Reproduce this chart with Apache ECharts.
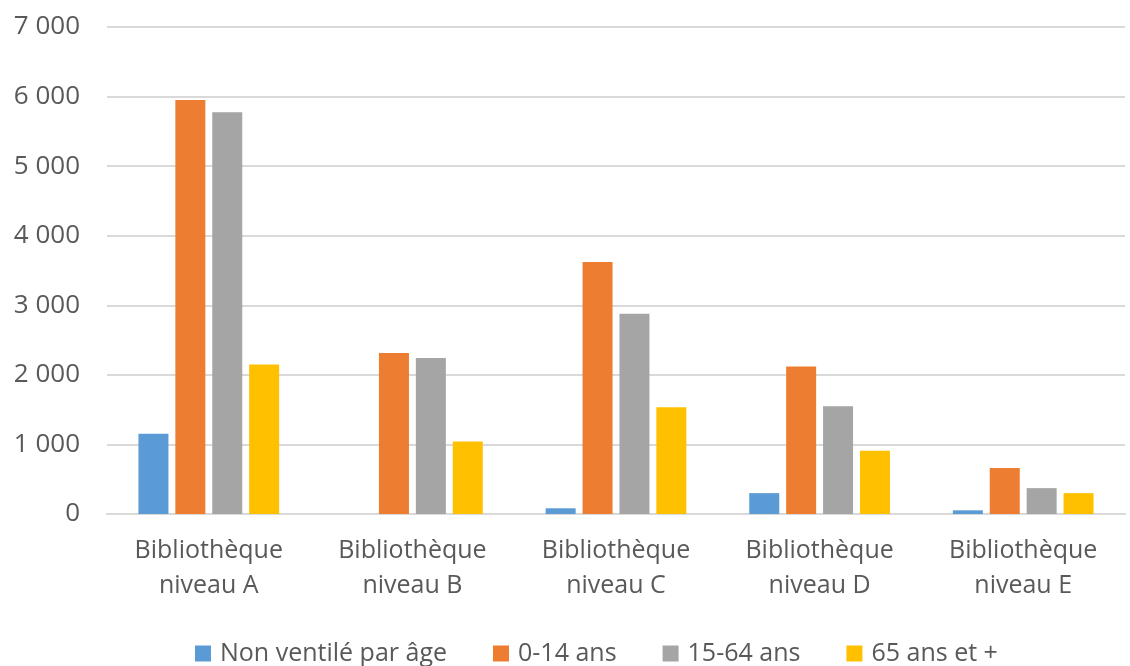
<!DOCTYPE html>
<html>
<head>
<meta charset="utf-8">
<script src="https://cdn.jsdelivr.net/npm/echarts@6/dist/echarts.min.js"></script>
<style>
  html, body { margin: 0; padding: 0; background: #fff; }
  #chart { width: 1130px; height: 666px; }
</style>
</head>
<body>
<div id="chart"></div>
<script>
  const categories = [
    'Bibliothèque\nniveau A',
    'Bibliothèque\nniveau B',
    'Bibliothèque\nniveau C',
    'Bibliothèque\nniveau D',
    'Bibliothèque\nniveau E'
  ];
  const seriesNames = ['Non ventilé par âge', '0-14 ans', '15-64 ans', '65 ans et +'];
  const nonVentile = [1155, 0, 82, 300, 53];
  const age0to14 = [5950, 2315, 3622, 2120, 662];
  const age15to64 = [5775, 2243, 2880, 1550, 372];
  const age65plus = [2148, 1042, 1533, 908, 300];
  const colors = ['#5b9bd5', '#ed7d31', '#a5a5a5', '#ffc000'];

  const fontFamily = '"Open Sans", "Noto Sans", sans-serif';
  const textColor = '#595959';

  const chart = echarts.init(document.getElementById('chart'));

  const mkSeries = (name, data, i) => ({
    name,
    type: 'bar',
    data,
    barWidth: 30,
    barGap: '23%',
    itemStyle: { color: colors[i] },
    emphasis: { disabled: true }
  });

  chart.setOption({
    animation: false,
    color: colors,
    textStyle: { fontFamily },
    grid: { left: 107, right: 5, top: 27, bottom: 152 },
    legend: {
      top: 636,
      left: 190,
      itemWidth: 16,
      itemHeight: 16,
      itemGap: 46,
      icon: 'rect',
      textStyle: { fontSize: 25, color: textColor, fontFamily, padding: [0, 0, 0, 4] },
      data: seriesNames
    },
    xAxis: {
      type: 'category',
      data: categories,
      axisLine: { show: true, lineStyle: { color: '#d9d9d9', width: 2 } },
      axisTick: { show: false },
      axisLabel: {
        color: textColor,
        fontSize: 25,
        lineHeight: 35,
        margin: 19,
        fontFamily
      }
    },
    yAxis: {
      type: 'value',
      min: 0,
      max: 7000,
      interval: 1000,
      axisLine: { show: false },
      axisTick: { show: false },
      splitLine: { lineStyle: { color: '#d9d9d9', width: 2 } },
      axisLabel: {
        color: textColor,
        fontSize: 26,
        margin: 27,
        fontFamily,
        formatter: v => String(v).replace(/\B(?=(\d{3})+(?!\d))/g, ' ')
      }
    },
    series: [
      mkSeries(seriesNames[0], nonVentile, 0),
      mkSeries(seriesNames[1], age0to14, 1),
      mkSeries(seriesNames[2], age15to64, 2),
      mkSeries(seriesNames[3], age65plus, 3)
    ]
  });
</script>
</body>
</html>
